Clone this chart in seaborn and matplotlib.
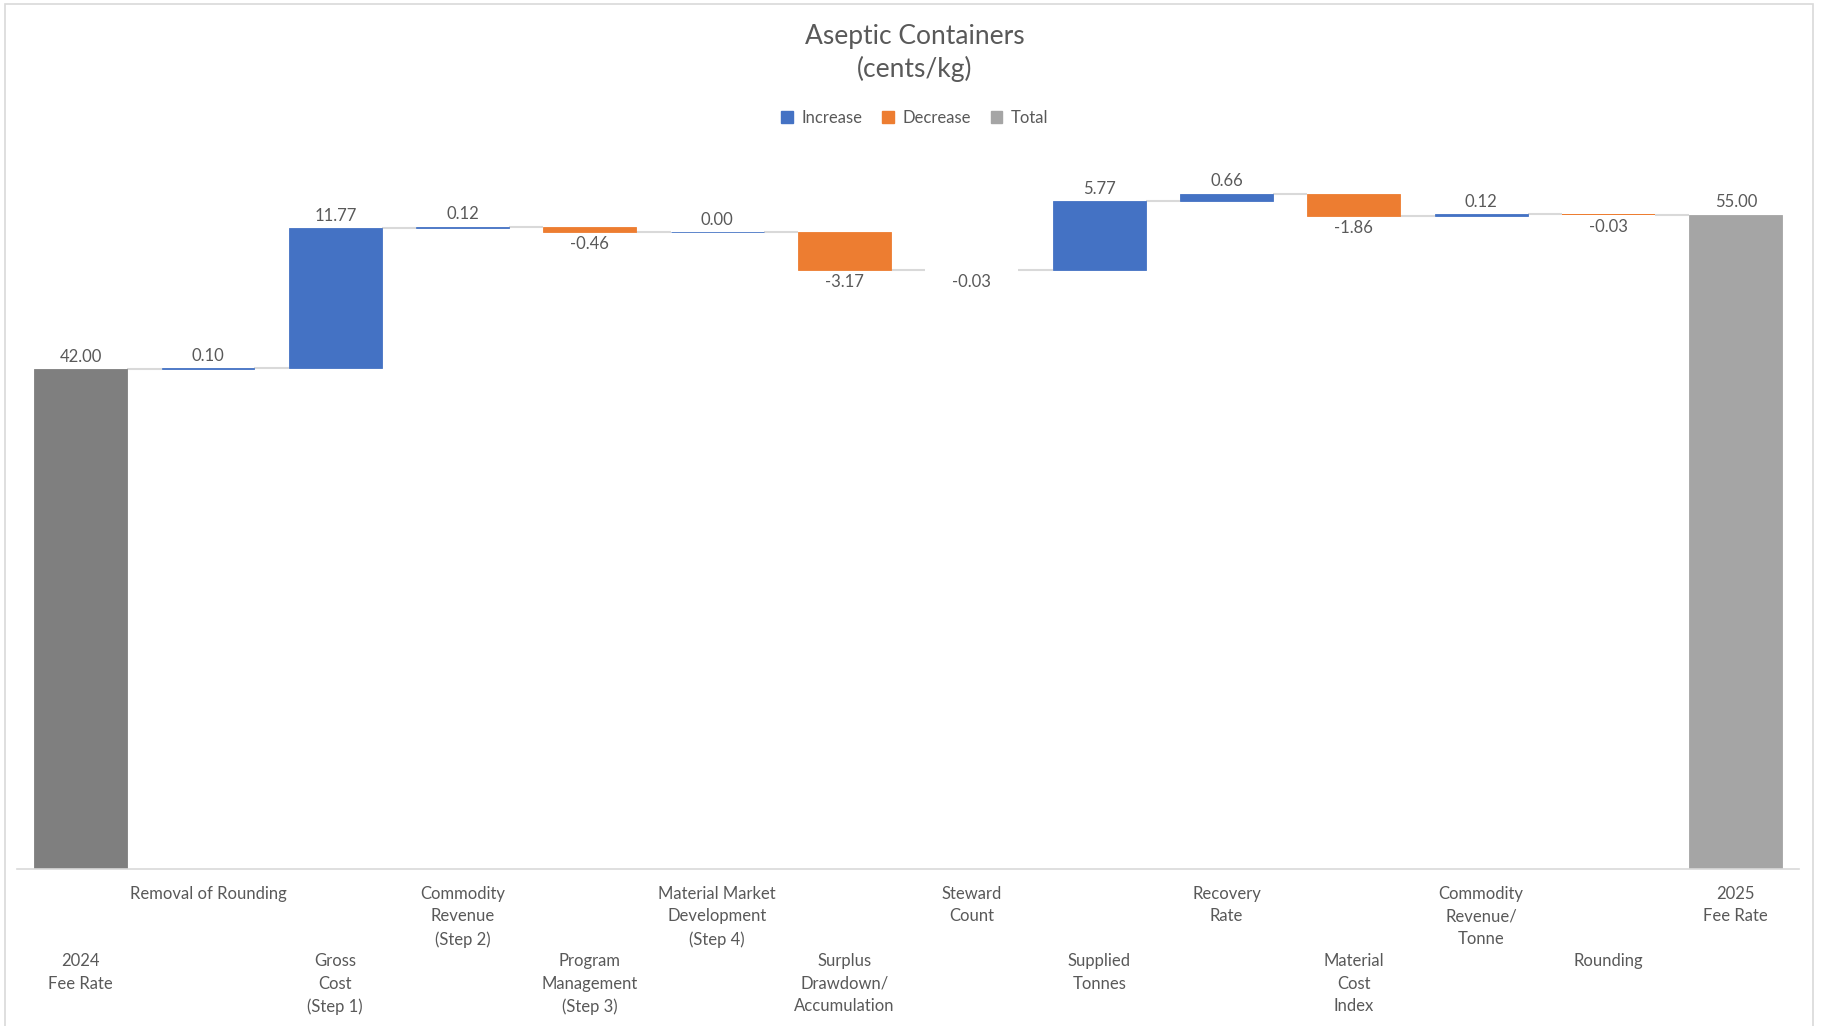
import numpy as np
import matplotlib
matplotlib.use("Agg")
import matplotlib.pyplot as plt
from matplotlib.patches import Patch, Rectangle
import seaborn as sns

# --- data (cents/kg) ---
steps = [
    "2024 Fee Rate", "Removal of Rounding", "Gross Cost (Step 1)",
    "Commodity Revenue (Step 2)", "Program Management (Step 3)",
    "Material Market Development (Step 4)", "Surplus Drawdown/Accumulation",
    "Steward Count", "Supplied Tonnes", "Recovery Rate", "Material Cost Index",
    "Commodity Revenue/Tonne", "Rounding", "2025 Fee Rate",
]
tick_text = [
    "2024\nFee Rate", "Removal of Rounding", "Gross\nCost\n(Step 1)",
    "Commodity\nRevenue\n(Step 2)", "Program\nManagement\n(Step 3)",
    "Material Market\nDevelopment\n(Step 4)", "Surplus\nDrawdown/\nAccumulation",
    "Steward\nCount", "Supplied\nTonnes", "Recovery\nRate", "Material\nCost\nIndex",
    "Commodity\nRevenue/\nTonne", "Rounding", "2025\nFee Rate",
]
values = [42.00, 0.10, 11.77, 0.12, -0.46, 0.00, -3.17, -0.03, 5.77, 0.66, -1.86, 0.12, -0.03, 55.00]
is_total = [True] + [False] * 12 + [True]

BLUE = "#4472C4"
ORANGE = "#ED7D31"
GRAY_START = "#7F7F7F"
GRAY_END = "#A5A5A5"
TEXT = "#595959"
LINE = "#D9D9D9"

# running levels for the floating bars
starts, ends = [], []
level = 0.0
for v, tot in zip(values, is_total):
    if tot:
        starts.append(0.0)
        ends.append(v)
        level = v
    else:
        starts.append(level)
        level = level + v
        ends.append(level)
starts = np.array(starts)
ends = np.array(ends)
heights = ends - starts

sns.set_theme(style="white")
plt.rcParams["font.family"] = ["Lato", "DejaVu Sans"]

fig = plt.figure(figsize=(18.22, 10.26), dpi=100)
ax = fig.add_axes([0.00933, 0.153, 0.9783, 0.6959])

sns.barplot(x=steps, y=heights, bottom=starts, order=steps, color=BLUE,
            width=0.73, errorbar=None, ax=ax)

for i, bar in enumerate(ax.patches):
    if is_total[i]:
        c = GRAY_START if i == 0 else GRAY_END
    else:
        c = BLUE if values[i] >= 0 else ORANGE
    bar.set_facecolor(c)
    bar.set_edgecolor(c)
    # very small changes still show as a thin line, except the tiniest
    bar.set_linewidth(0.6 if abs(heights[i]) >= 0.05 or values[i] == 0 else 0)

# connector lines between bars
half = 0.73 / 2
for i in range(len(values) - 1):
    ax.plot([i + half, i + 1 - half], [ends[i], ends[i]], color=LINE, lw=1.5,
            zorder=0.5, solid_capstyle="butt")

# data labels
for i, v in enumerate(values):
    if is_total[i] or v >= 0:
        ax.annotate(f"{v:.2f}", (i, max(starts[i], ends[i])), xytext=(0, 3),
                    textcoords="offset points", ha="center", va="bottom",
                    fontsize=12, color=TEXT)
    else:
        ax.annotate(f"{v:.2f}", (i, min(starts[i], ends[i])), xytext=(0, -3),
                    textcoords="offset points", ha="center", va="top",
                    fontsize=12, color=TEXT)

ax.set_xlim(-0.5, len(values) - 0.5)
ax.set_ylim(0, 60)
ax.set_yticks([])
ax.set_ylabel("")
ax.set_xlabel("")

# staggered category labels, like Excel does when they do not fit
staggered = [("\n\n\n" + t) if i % 2 == 0 else t for i, t in enumerate(tick_text)]
ax.set_xticks(range(len(values)))
ax.set_xticklabels(staggered, fontsize=12, color=TEXT, linespacing=1.5)
ax.tick_params(axis="x", length=0, pad=12)

for side in ["left", "right", "top"]:
    ax.spines[side].set_visible(False)
ax.spines["bottom"].set_color(LINE)
ax.spines["bottom"].set_linewidth(1.2)

fig.text(0.502, 0.977, "Aseptic Containers\n(cents/kg)", ha="center", va="top",
         fontsize=19, color=TEXT, linespacing=1.35)

handles = [Patch(color=BLUE, label="Increase"),
           Patch(color=ORANGE, label="Decrease"),
           Patch(color=GRAY_END, label="Total")]
leg = fig.legend(handles=handles, loc="center", bbox_to_anchor=(0.502, 0.885),
                 ncol=3, frameon=False, fontsize=12, handlelength=0.7,
                 handleheight=0.7, handletextpad=0.5, columnspacing=1.2)
for t in leg.get_texts():
    t.set_color(TEXT)

# thin chart-area border
fig.patches.append(Rectangle((5 / 1822, -0.01), (1813 - 5) / 1822, 1 - 4 / 1026 + 0.01,
                             transform=fig.transFigure, fill=False,
                             edgecolor=LINE, lw=1.2))

fig.savefig("out.png", dpi=100)
